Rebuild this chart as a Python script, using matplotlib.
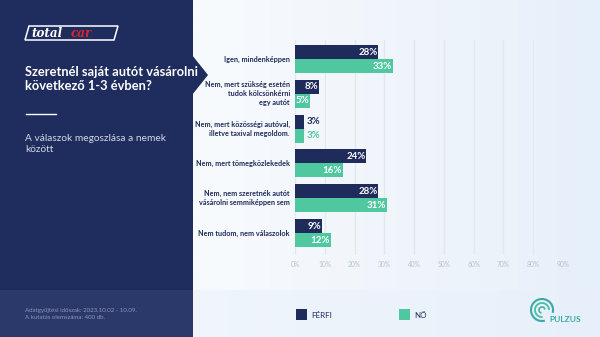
import matplotlib
matplotlib.use("Agg")
import matplotlib.pyplot as plt
import numpy as np
from matplotlib.patches import Rectangle, Polygon, Arc
from matplotlib.colors import LinearSegmentedColormap

plt.rcParams['font.family'] = ['Lato', 'DejaVu Sans']

# --- data ---
categories = [
    "Igen, mindenképpen",
    "Nem, mert szükség esetén\ntudok kölcsönkérni\negy autót",
    "Nem, mert közösségi autóval,\nilletve taxival megoldom.",
    "Nem, mert tömegközlekedek",
    "Nem, nem szeretnék autót\nvásárolni semmiképpen sem",
    "Nem tudom, nem válaszolok",
]
ferfi = [28, 8, 3, 24, 28, 9]
no = [33, 5, 3, 16, 31, 12]
xticks = [0, 10, 20, 30, 40, 50, 60, 70, 80, 90]
series_names = ["FÉRFI", "NŐ"]

NAVY = "#1f2b5b"
PANEL = "#1f2c5e"
PANEL_FOOT = "#2b396a"
GREEN = "#4fc8a0"
TEAL = "#3aa9a8"

W, H = 600, 337
fig = plt.figure(figsize=(6, 3.37), dpi=100)

# background / decoration layer in pixel coordinates (y grows downward)
bg = fig.add_axes([0, 0, 1, 1])
bg.set_xlim(0, W)
bg.set_ylim(H, 0)
bg.axis("off")

# light gradient on the right side
grad = np.linspace(0, 1, 256).reshape(1, -1)
cmap = LinearSegmentedColormap.from_list("bgc", ["#f8fbfe", "#f0f5fb", "#e6f0fa"])
bg.imshow(grad, extent=(193, W, H, 0), cmap=cmap, aspect="auto", zorder=0)
bg.add_patch(Rectangle((193, 290), W - 193, H - 290, color="#e8f1fa", alpha=0.5, zorder=0.5, lw=0))

# dark side panel with pointer
bg.add_patch(Rectangle((0, 0), 193, H, color=PANEL, zorder=1, lw=0))
bg.add_patch(Polygon([(192, 55), (208, 75), (192, 95)], closed=True, color=PANEL, zorder=1, lw=0))
bg.add_patch(Rectangle((0, 290), 193, H - 290, color=PANEL_FOOT, zorder=1.1, lw=0))

# totalcar logo
bg.add_patch(Polygon([(29, 26), (118, 26), (114, 40), (25, 40)], closed=True,
                     fill=False, ec="white", lw=1.1, zorder=2))
bg.text(31, 33.5, "total", color="white", fontsize=8.6, fontweight="bold",
        fontstyle="italic", va="center", ha="left", zorder=3, family="DejaVu Serif")
bg.text(71, 33.5, "car", color="#d9262c", fontsize=8.6, fontweight="bold",
        fontstyle="italic", va="center", ha="left", zorder=3, family="DejaVu Serif")

# titles
bg.text(25, 79, "Szeretnél saját autót vásárolni\nkövetkező 1-3 évben?", color="white",
        fontsize=9.3, fontweight="bold", va="center", ha="left", linespacing=1.25, zorder=3)
bg.plot([26, 56], [114, 114], color="white", lw=1.0, zorder=3)
bg.text(25, 144, "A válaszok megoszlása a nemek\nközött", color="#d4d8e6",
        fontsize=7.3, va="center", ha="left", linespacing=1.4, zorder=3)
bg.text(25, 314, "Adatgyűjtési időszak: 2023.10.02 - 10.09.\nA kutatás elemszáma: 400 db.",
        color="#8d96b8", fontsize=4.4, va="center", ha="left", linespacing=1.7, zorder=3)

# legend
bg.add_patch(Rectangle((296, 309), 11, 11, color=NAVY, zorder=3, lw=0))
bg.text(311, 315, series_names[0], color=NAVY, fontsize=5.8, va="center", ha="left", zorder=3)
bg.add_patch(Rectangle((399, 309), 11, 11, color=GREEN, zorder=3, lw=0))
bg.text(414, 315, series_names[1], color=NAVY, fontsize=5.8, va="center", ha="left", zorder=3)

# PULZUS logo: concentric rings open toward the lower right
bg.add_patch(Arc((542, 310), 22, 22, theta1=75, theta2=375, color=TEAL, lw=1.5, zorder=3))
bg.add_patch(Arc((542, 310), 14, 14, theta1=85, theta2=360, color="#46c0a0", lw=1.3, zorder=3))
bg.add_patch(Arc((542, 310), 6, 6, theta1=100, theta2=350, color=TEAL, lw=1.1, zorder=3))
bg.text(549, 320, "PULZUS", color=TEAL, fontsize=6.0, fontweight="bold", va="center",
        ha="left", zorder=4)

# --- bar chart ---
x0_px, x1_px = 295, 563
y_top, y_bot = 40, 255
ax = fig.add_axes([x0_px / W, 1 - y_bot / H, (x1_px - x0_px) / W, (y_bot - y_top) / H])
ax.patch.set_alpha(0)
ax.set_xlim(0, 90)
step = 34.8
ax.set_ylim((y_bot - 59) / step, -(59 - y_top) / step)
idx = np.arange(len(categories))
bh = 14 / step

ax.barh(idx - bh / 2, ferfi, height=bh, color=NAVY, zorder=3)
ax.barh(idx + bh / 2, no, height=bh, color=GREEN, zorder=3)

for xv in xticks:
    ax.axvline(xv, color="#e3e8ef", lw=1.0, zorder=1)

def label(val, y, color):
    if val >= 5:
        ax.text(val - 0.3, y, f"{val}%", color="white", fontsize=7.0, fontweight="bold",
                ha="right", va="center", zorder=4)
    else:
        ax.text(val + 0.8, y, f"{val}%", color=color, fontsize=7.0, fontweight="bold",
                ha="left", va="center", zorder=4)

for i in idx:
    label(ferfi[i], i - bh / 2, NAVY)
    label(no[i], i + bh / 2, GREEN)
    ax.text(-1.7, i, categories[i], color=NAVY, fontsize=5.2, fontweight="bold",
            ha="right", va="center", linespacing=1.35)

ax.set_xticks(xticks)
ax.set_xticklabels([f"{v}%" for v in xticks], color="#b9c1cc", fontsize=4.8)
ax.tick_params(axis="x", length=0, pad=4)
ax.set_yticks([])
for s in ax.spines.values():
    s.set_visible(False)

fig.savefig("out.png", dpi=100)
